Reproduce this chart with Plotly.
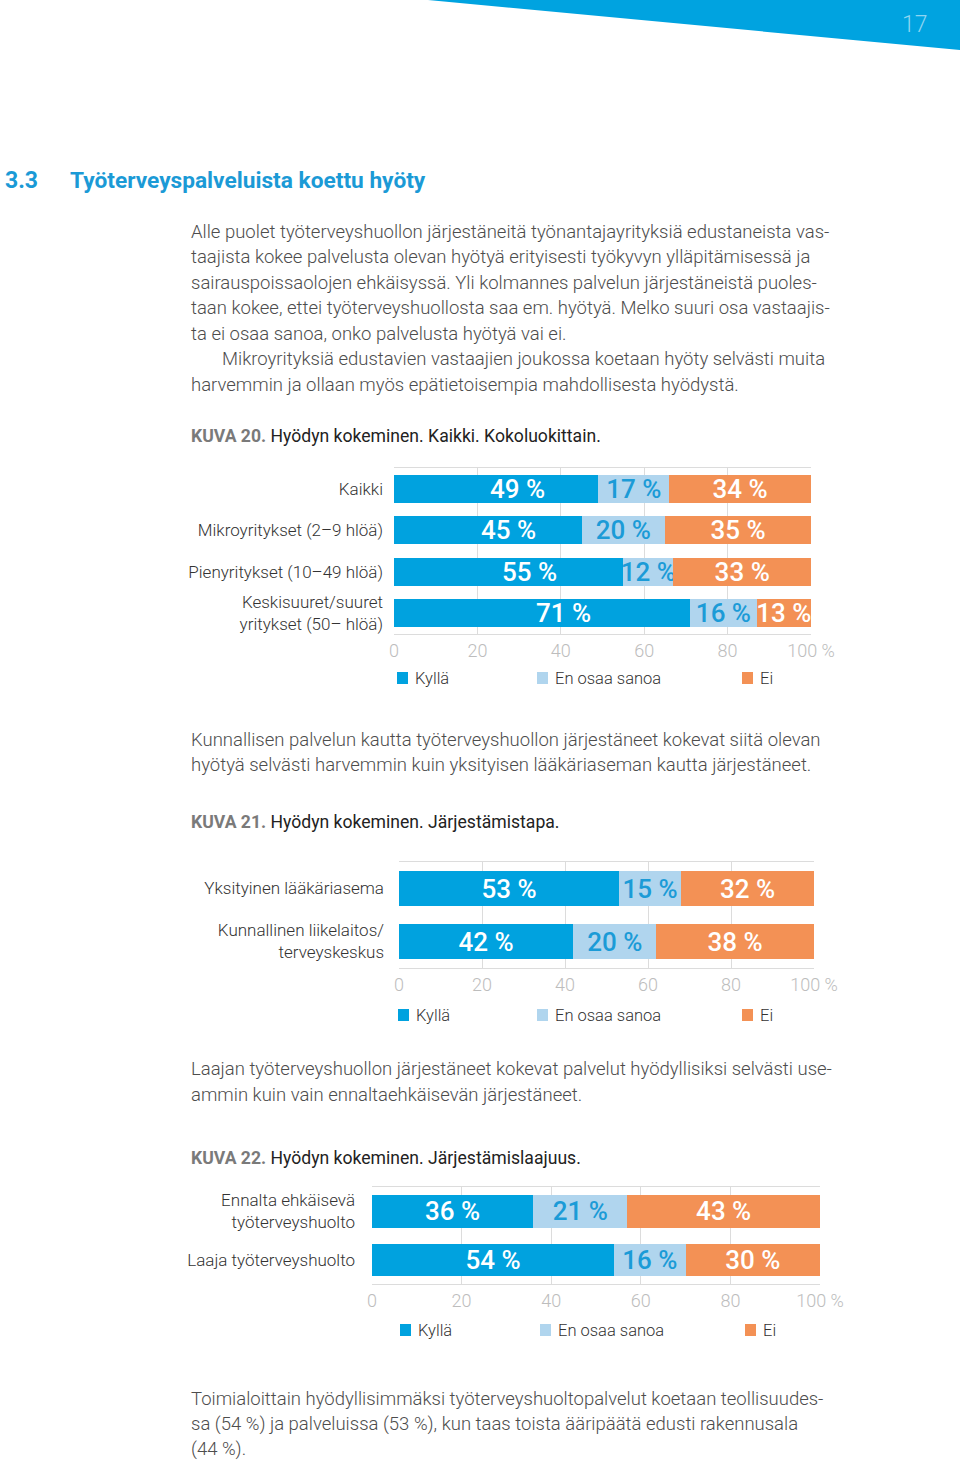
import plotly.graph_objects as go

# ---------------- data ----------------
series_names = ["Kyllä", "En osaa sanoa", "Ei"]

cats1 = ["Kaikki", "Mikroyritykset (2–9 hlöä)", "Pienyritykset (10–49 hlöä)",
         "Keskisuuret/suuret<br>yritykset (50– hlöä)"]
kylla1 = [49, 45, 55, 71]
eos1 = [17, 20, 12, 16]
ei1 = [34, 35, 33, 13]

cats2 = ["Yksityinen lääkäriasema", "Kunnallinen liikelaitos/<br>terveyskeskus"]
kylla2 = [53, 42]
eos2 = [15, 20]
ei2 = [32, 38]

cats3 = ["Ennalta ehkäisevä<br>työterveyshuolto", "Laaja työterveyshuolto"]
kylla3 = [36, 54]
eos3 = [21, 16]
ei3 = [43, 30]

tick_vals = [0, 20, 40, 60, 80, 100]
tick_text = ["0", "20", "40", "60", "80", "100 %"]

# ---------------- style ----------------
W, H = 960, 1460
FONT = "Roboto"
C_YES = "#00a2df"
C_EOS = "#b0d5ee"
C_NO = "#f39155"
C_EOS_TXT = "#1b9bd7"
GRID = "#dcdcdc"
TICK = "#bdbdbd"
BODY = "#4d4d4d"
BAR_FONT = 26


def px(x):
    return x / W


def py(y):
    return 1 - y / H


fig = go.Figure()
annotations = []

charts = [
    (cats1, kylla1, eos1, ei1, "x", "y", 21),
    (cats2, kylla2, eos2, ei2, "x2", "y2", 0),
    (cats3, kylla3, eos3, ei3, "x3", "y3", 0),
]
for cats, k, e, n, xa, ya, yes_shift in charts:
    for i, (name, vals, col, tcol) in enumerate(zip(series_names, [k, e, n],
                                                    [C_YES, C_EOS, C_NO],
                                                    ["white", C_EOS_TXT, "white"])):
        use_ann = (i == 0 and yes_shift != 0)
        fig.add_trace(go.Bar(
            y=cats, x=vals, name=name, orientation="h",
            marker=dict(color=col, line=dict(width=0)),
            texttemplate="%{x} %", textposition="none" if use_ann else "inside",
            insidetextanchor="middle", constraintext="none",
            textfont=dict(family=FONT, size=BAR_FONT, color=tcol, weight=500),
            xaxis=xa, yaxis=ya, showlegend=False, hoverinfo="skip",
        ))
        if use_ann:
            for c, v in zip(cats, vals):
                annotations.append(dict(
                    text=f"{v} %", x=v / 2, y=c, xref=xa, yref=ya, showarrow=False,
                    xshift=yes_shift, xanchor="center", yanchor="middle",
                    font=dict(family=FONT, size=BAR_FONT, color=tcol, weight=500)))

# plot-area geometry (pixels): x0, x1, ytop, ybottom, label standoff
geo = {
    "": (394, 811, 468, 634, 10),
    "2": (399, 814, 862, 968, 14),
    "3": (372, 820, 1187, 1284, 16),
}
layout_axes = {}
for suf, (x0, x1, y0, y1, so) in geo.items():
    layout_axes["xaxis" + suf] = dict(
        domain=[px(x0), px(x1)], range=[0, 100], anchor="y" + suf,
        tickvals=tick_vals, ticktext=tick_text, showgrid=True,
        gridcolor=GRID, gridwidth=1, zeroline=False,
        showline=True, linecolor=GRID, linewidth=1, mirror=True,
        ticks="", fixedrange=True, automargin=False,
        tickfont=dict(family=FONT, size=18, color=TICK, weight=300),
    )
    layout_axes["yaxis" + suf] = dict(
        domain=[py(y1), py(y0)], anchor="x" + suf, autorange="reversed",
        showgrid=False, zeroline=False, showline=False, ticks="",
        ticklabelstandoff=so, automargin=False, fixedrange=True,
        tickfont=dict(family=FONT, size=17, color="#333333", weight=300),
    )

shapes = []

# header band
shapes.append(dict(type="path", xref="paper", yref="paper",
                   path=f"M {px(428)},{py(0)} L {px(960)},{py(0)} L {px(960)},{py(50)} Z",
                   fillcolor="#00a3e0", line=dict(width=0), layer="below"))
annotations.append(dict(text="17", x=px(915), y=py(25), xref="paper", yref="paper",
                        showarrow=False, xanchor="center", yanchor="middle",
                        font=dict(family=FONT, size=23, color="#8ed5f2", weight=300)))

# section title
annotations.append(dict(text="<b>3.3</b>", x=px(3), y=py(181), xref="paper", yref="paper",
                        showarrow=False, xanchor="left", yanchor="middle",
                        font=dict(family=FONT, size=23, color="#1b9ad6")))
annotations.append(dict(text="<b>Työterveyspalveluista koettu hyöty</b>", x=px(68), y=py(181),
                        xref="paper", yref="paper", showarrow=False, xanchor="left",
                        yanchor="middle", font=dict(family=FONT, size=22.7, color="#1b9ad6")))


def body(text, x, y):
    annotations.append(dict(text=text, x=px(x), y=py(y), xref="paper", yref="paper",
                            showarrow=False, xanchor="left", yanchor="middle",
                            font=dict(family=FONT, size=18.5, color=BODY, weight=300)))


def caption(num, text, y):
    annotations.append(dict(
        text=f"<span style='color:#7a7a7a'><b>KUVA {num}.</b></span> {text}",
        x=px(189), y=py(y), xref="paper", yref="paper", showarrow=False,
        xanchor="left", yanchor="middle",
        font=dict(family=FONT, size=17.6, color="#222222")))


para_lines = [
    (189, 232, "Alle puolet työterveyshuollon järjestäneitä työnantajayrityksiä edustaneista vas-"),
    (189, 257, "taajista kokee palvelusta olevan hyötyä erityisesti työkyvyn ylläpitämisessä ja"),
    (189, 283, "sairauspoissaolojen ehkäisyssä. Yli kolmannes palvelun järjestäneistä puoles-"),
    (189, 308, "taan kokee, ettei työterveyshuollosta saa em. hyötyä. Melko suuri osa vastaajis-"),
    (189, 334, "ta ei osaa sanoa, onko palvelusta hyötyä vai ei."),
    (220, 359, "Mikroyrityksiä edustavien vastaajien joukossa koetaan hyöty selvästi muita"),
    (189, 385, "harvemmin ja ollaan myös epätietoisempia mahdollisesta hyödystä."),
    (189, 740, "Kunnallisen palvelun kautta työterveyshuollon järjestäneet kokevat siitä olevan"),
    (189, 765, "hyötyä selvästi harvemmin kuin yksityisen lääkäriaseman kautta järjestäneet."),
    (189, 1069, "Laajan työterveyshuollon järjestäneet kokevat palvelut hyödyllisiksi selvästi use-"),
    (189, 1095, "ammin kuin vain ennaltaehkäisevän järjestäneet."),
    (189, 1399, "Toimialoittain hyödyllisimmäksi työterveyshuoltopalvelut koetaan teollisuudes-"),
    (189, 1424, "sa (54 %) ja palveluissa (53 %), kun taas toista ääripäätä edusti rakennusala"),
    (189, 1449, "(44 %)."),
]
for x, y, t in para_lines:
    body(t, x, y)

caption(20, "Hyödyn kokeminen. Kaikki. Kokoluokittain.", 436)
caption(21, "Hyödyn kokeminen. Järjestämistapa.", 822)
caption(22, "Hyödyn kokeminen. Järjestämislaajuus.", 1158)

# legends (manual, one per chart)
legend_rows = [
    (678, [397, 537, 742]),
    (1015, [398, 537, 742]),
    (1330, [400, 540, 745]),
]
for ly, xs in legend_rows:
    for name, col, lx in zip(series_names, [C_YES, C_EOS, C_NO], xs):
        shapes.append(dict(type="rect", xref="paper", yref="paper",
                           x0=px(lx), x1=px(lx + 11), y0=py(ly + 6), y1=py(ly - 6),
                           fillcolor=col, line=dict(width=0)))
        annotations.append(dict(text=name, x=px(lx + 16), y=py(ly), xref="paper",
                                yref="paper", showarrow=False, xanchor="left",
                                yanchor="middle",
                                font=dict(family=FONT, size=16.5, color="#333333", weight=300)))

fig.update_layout(
    width=W, height=H,
    margin=dict(l=0, r=0, t=0, b=0, pad=0, autoexpand=False),
    paper_bgcolor="white", plot_bgcolor="white",
    barmode="stack", bargap=0.33, showlegend=False,
    uniformtext=dict(minsize=BAR_FONT - 1, mode="show"),
    font=dict(family=FONT),
    shapes=shapes, annotations=annotations,
    **layout_axes,
)

fig.write_html(
    "out.html",
    config={"displayModeBar": False, "staticPlot": False},
    post_script="document.body.style.margin='0';document.body.style.overflow='hidden';"
                "document.documentElement.style.overflow='hidden';",
)
